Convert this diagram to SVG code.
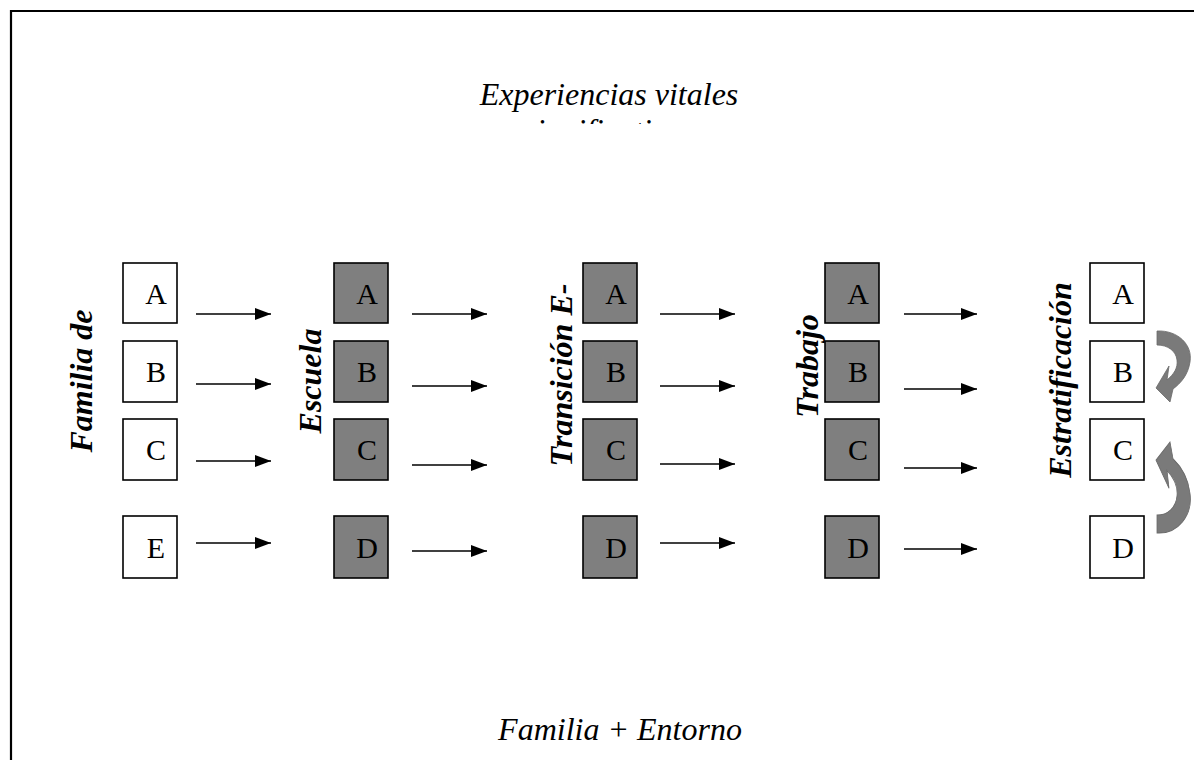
<svg xmlns="http://www.w3.org/2000/svg" width="1194" height="760" viewBox="0 0 1194 760">
<style>
.bw{fill:#fff;stroke:#000;stroke-width:1.6}
.bg{fill:#7f7f7f;stroke:#000;stroke-width:1.6}
.lt{font-family:"Liberation Serif",serif;font-size:30px;text-anchor:middle;fill:#000}
.rl{font-family:"Liberation Serif",serif;font-size:32px;font-weight:bold;font-style:italic;text-anchor:middle;fill:#000}
.tt{font-family:"Liberation Serif",serif;font-size:32px;font-style:italic;text-anchor:middle;fill:#000}
.ar{stroke:#000;stroke-width:1.6;fill:none;marker-end:url(#ah)}
.cv{fill:#7a7a7a;stroke:#6a6a6a;stroke-width:0.8}
</style>
<defs>
<marker id="ah" viewBox="0 0 16 12" refX="16" refY="6" markerWidth="16" markerHeight="12" markerUnits="userSpaceOnUse" orient="auto"><path d="M0,0 L16,6 L0,12 Z" fill="#000"/></marker>
<clipPath id="clip2"><rect x="0" y="0" width="1194" height="124"/></clipPath>
<path id="curve" d="M1157,331 C1178,330 1193,345 1190,362 C1188,375 1181,383 1173,389 L1170,402 L1156,388 L1169,366 L1167,380 C1174,374 1178,368 1177,360 C1176,351 1168,345 1157,345 Z"/>
</defs>
<rect width="1194" height="760" fill="#fff"/>
<path d="M11,760 L11,11 L1194,11" fill="none" stroke="#000" stroke-width="2.2"/>
<g id="title">
<text class="tt" x="609" y="105">Experiencias vitales</text>
<text class="tt" x="609" y="141" clip-path="url(#clip2)">significativas</text>
</g>
<g id="footer"><text class="tt" x="620" y="740">Familia + Entorno</text></g>
<g id="labels">
<text class="rl" transform="translate(92,381) rotate(-90)">Familia de</text>
<text class="rl" transform="translate(321,381) rotate(-90)">Escuela</text>
<text class="rl" transform="translate(572,375) rotate(-90)">Transición E-</text>
<text class="rl" transform="translate(818,366) rotate(-90)">Trabajo</text>
<text class="rl" transform="translate(1071,380) rotate(-90)">Estratificación</text>
</g>
<g id="col1">
<g id="c1a"><rect class="bw" x="123" y="263" width="54" height="60"/><text class="lt" x="156" y="304">A</text></g>
<g id="c1b"><rect class="bw" x="123" y="341" width="54" height="61"/><text class="lt" x="156" y="382">B</text></g>
<g id="c1c"><rect class="bw" x="123" y="419" width="54" height="61"/><text class="lt" x="156" y="460">C</text></g>
<g id="c1e"><rect class="bw" x="123" y="516" width="54" height="62"/><text class="lt" x="156" y="558">E</text></g>
</g>
<g id="col2">
<g id="c2a"><rect class="bg" x="334" y="263" width="54" height="60"/><text class="lt" x="367" y="304">A</text></g>
<g id="c2b"><rect class="bg" x="334" y="341" width="54" height="61"/><text class="lt" x="367" y="382">B</text></g>
<g id="c2c"><rect class="bg" x="334" y="419" width="54" height="61"/><text class="lt" x="367" y="460">C</text></g>
<g id="c2d"><rect class="bg" x="334" y="516" width="54" height="62"/><text class="lt" x="367" y="558">D</text></g>
</g>
<g id="col3">
<g id="c3a"><rect class="bg" x="583" y="263" width="54" height="60"/><text class="lt" x="616" y="304">A</text></g>
<g id="c3b"><rect class="bg" x="583" y="341" width="54" height="61"/><text class="lt" x="616" y="382">B</text></g>
<g id="c3c"><rect class="bg" x="583" y="419" width="54" height="61"/><text class="lt" x="616" y="460">C</text></g>
<g id="c3d"><rect class="bg" x="583" y="516" width="54" height="62"/><text class="lt" x="616" y="558">D</text></g>
</g>
<g id="col4">
<g id="c4a"><rect class="bg" x="825" y="263" width="54" height="60"/><text class="lt" x="858" y="304">A</text></g>
<g id="c4b"><rect class="bg" x="825" y="341" width="54" height="61"/><text class="lt" x="858" y="382">B</text></g>
<g id="c4c"><rect class="bg" x="825" y="419" width="54" height="61"/><text class="lt" x="858" y="460">C</text></g>
<g id="c4d"><rect class="bg" x="825" y="516" width="54" height="62"/><text class="lt" x="858" y="558">D</text></g>
</g>
<g id="col5">
<g id="c5a"><rect class="bw" x="1090" y="263" width="54" height="60"/><text class="lt" x="1123" y="304">A</text></g>
<g id="c5b"><rect class="bw" x="1090" y="341" width="54" height="61"/><text class="lt" x="1123" y="382">B</text></g>
<g id="c5c"><rect class="bw" x="1090" y="419" width="54" height="61"/><text class="lt" x="1123" y="460">C</text></g>
<g id="c5d"><rect class="bw" x="1090" y="516" width="54" height="62"/><text class="lt" x="1123" y="558">D</text></g>
</g>
<g id="connectors">
<line class="ar" x1="196" y1="314" x2="271" y2="314"/>
<line class="ar" x1="196" y1="384" x2="271" y2="384"/>
<line class="ar" x1="196" y1="461" x2="271" y2="461"/>
<line class="ar" x1="196" y1="543" x2="271" y2="543"/>
<line class="ar" x1="412" y1="314" x2="487" y2="314"/>
<line class="ar" x1="412" y1="386" x2="487" y2="386"/>
<line class="ar" x1="412" y1="465" x2="487" y2="465"/>
<line class="ar" x1="412" y1="551" x2="487" y2="551"/>
<line class="ar" x1="660" y1="314" x2="735" y2="314"/>
<line class="ar" x1="660" y1="386" x2="735" y2="386"/>
<line class="ar" x1="660" y1="464" x2="735" y2="464"/>
<line class="ar" x1="660" y1="543" x2="735" y2="543"/>
<line class="ar" x1="904" y1="314" x2="977" y2="314"/>
<line class="ar" x1="904" y1="389" x2="977" y2="389"/>
<line class="ar" x1="904" y1="468" x2="977" y2="468"/>
<line class="ar" x1="904" y1="549" x2="977" y2="549"/>
<use href="#curve" class="cv"/>
<use href="#curve" class="cv" transform="matrix(1 0 0 -1.28 0 956.7)"/>
</g>
</svg>
